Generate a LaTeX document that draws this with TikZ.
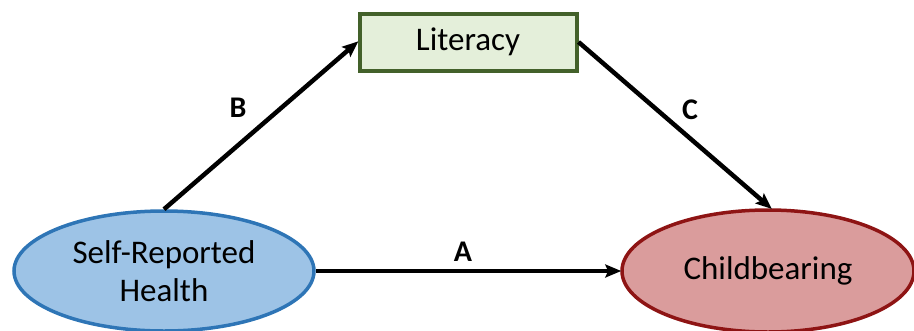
\documentclass[tikz,border=0pt]{standalone}
\usepackage{fontspec}
\setmainfont{Carlito}
\usetikzlibrary{arrows.meta,shapes.geometric}
\definecolor{litfill}{HTML}{E4EFDA}
\definecolor{litdraw}{HTML}{43612A}
\definecolor{srfill}{HTML}{9DC3E6}
\definecolor{srdraw}{HTML}{2E75B6}
\definecolor{cbfill}{HTML}{DA9C9C}
\definecolor{cbdraw}{HTML}{8E1414}
\tikzset{
  box/.style={draw=litdraw, fill=litfill, line width=4pt, minimum width=217pt,
    minimum height=57pt, inner sep=0pt, font=\fontsize{33}{38}\selectfont},
  oval/.style={ellipse, line width=3.5pt, inner sep=0pt, align=center,
    font=\fontsize{33}{38}\selectfont},
  link/.style={line width=4.5pt, -{Stealth[length=16pt,width=13pt,inset=3pt]}, shorten >=-1pt},
  tag/.style={font=\fontsize{30}{34}\selectfont\bfseries}
}
\begin{document}
\begin{tikzpicture}[x=1pt, y=-1pt]
\useasboundingbox (0,0) rectangle (914,330);
\node[box] (lit) at (468,42) {Literacy};
\node[oval, draw=srdraw, fill=srfill, minimum width=300pt, minimum height=120pt] (sr) at (164,271) {Self-Reported\\Health};
\node[oval, draw=cbdraw, fill=cbfill, minimum width=292pt, minimum height=122pt] (cb) at (768,271) {Childbearing};
\draw[link] (sr.north) -- (lit.west);
\draw[link] (lit.east) -- ([xshift=3pt]cb.north);
\draw[link] (sr.east) -- (cb.west);
\node[tag] (la) at (463,252) {A};
\node[tag] (lb) at (238,108) {B};
\node[tag] (lc) at (690,110) {C};
\end{tikzpicture}
\end{document}
